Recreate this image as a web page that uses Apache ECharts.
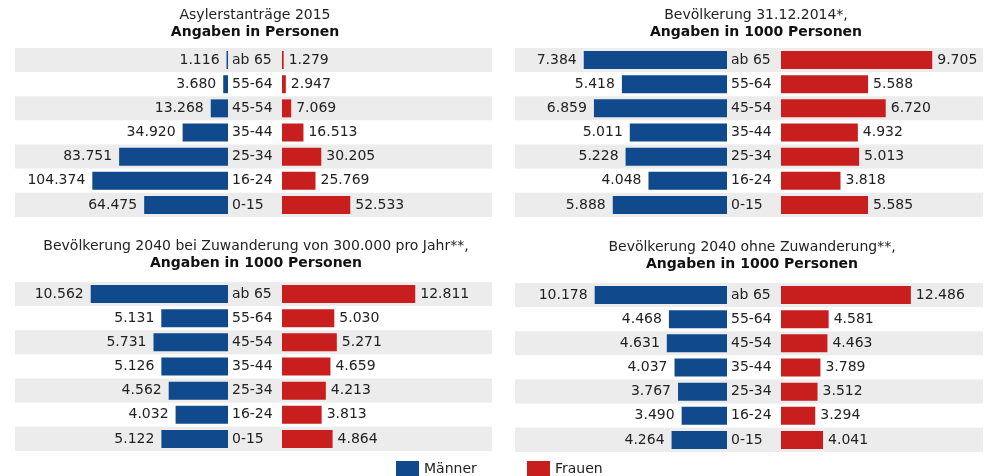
<!DOCTYPE html>
<html>
<head>
<meta charset="utf-8">
<script src="https://cdn.jsdelivr.net/npm/echarts@6/dist/echarts.min.js"></script>
<style>html,body{margin:0;padding:0;background:#fff}#c{width:986px;height:476px}</style>
</head>
<body>
<div id="c"></div>
<script>
// ---- data ----
const categories = ['ab 65', '55-64', '45-54', '35-44', '25-34', '16-24', '0-15'];
const seriesNames = ['Männer', 'Frauen'];
const titles1 = ['Asylerstanträge 2015', 'Bevölkerung 31.12.2014*,', 'Bevölkerung 2040 bei Zuwanderung von 300.000 pro Jahr**,', 'Bevölkerung 2040 ohne Zuwanderung**,'];
const titles2 = ['Angaben in Personen', 'Angaben in 1000 Personen', 'Angaben in 1000 Personen', 'Angaben in 1000 Personen'];
// values (Asyl: persons; others: thousands of persons)
const asylMaenner = [1116, 3680, 13268, 34920, 83751, 104374, 64475];
const asylFrauen = [1279, 2947, 7069, 16513, 30205, 25769, 52533];
const bev2014Maenner = [7384, 5418, 6859, 5011, 5228, 4048, 5888];
const bev2014Frauen = [9705, 5588, 6720, 4932, 5013, 3818, 5585];
const bev2040mitMaenner = [10562, 5131, 5731, 5126, 4562, 4032, 5122];
const bev2040mitFrauen = [12811, 5030, 5271, 4659, 4213, 3813, 4864];
const bev2040ohneMaenner = [10178, 4468, 4631, 4037, 3767, 3490, 4264];
const bev2040ohneFrauen = [12486, 4581, 4463, 3789, 3512, 3294, 4041];

// ---- layout ----
const BLUE = '#104a8c', RED = '#c81e1e', STRIPE = '#ececec', TXT = '#222';
const FONT = 'DejaVu Sans';
const FS = 14;
const panels = [
  {m: asylMaenner, f: asylFrauen, x0: 15, x1: 492, top: 48, zeroL: 228, zeroR: 282, maxL: 120000, wL: 156, maxR: 120000, wR: 156, cx: 255, ty: 15},
  {m: bev2014Maenner, f: bev2014Frauen, x0: 515, x1: 983, top: 48, zeroL: 727, zeroR: 781, maxL: 10000, wL: 194, maxR: 12000, wR: 187, cx: 756, ty: 15},
  {m: bev2040mitMaenner, f: bev2040mitFrauen, x0: 15, x1: 492, top: 282, zeroL: 228, zeroR: 282, maxL: 12000, wL: 156, maxR: 15000, wR: 156, cx: 256, ty: 246},
  {m: bev2040ohneMaenner, f: bev2040ohneFrauen, x0: 515, x1: 983, top: 283, zeroL: 727, zeroR: 781, maxL: 12000, wL: 156, maxR: 15000, wR: 156, cx: 752, ty: 247}
];
const H = 169;
const fmt = v => String(v).replace(/\B(?=(\d{3})+(?!\d))/g, '.');

const grid = [], xAxis = [], yAxis = [], series = [], graphic = [];
panels.forEach((p, i) => {
  const gi = grid.length;
  // background stripes
  grid.push({left: p.x0, top: p.top, width: p.x1 - p.x0, height: H});
  xAxis.push({gridIndex: gi, type: 'value', show: false, min: 0, max: 1});
  yAxis.push({gridIndex: gi, type: 'category', data: categories, inverse: true,
    axisLine: {show: false}, axisTick: {show: false}, axisLabel: {show: false}, splitLine: {show: false},
    splitArea: {show: true, areaStyle: {color: [STRIPE, '#ffffff']}}});
  // left (male)
  grid.push({left: p.zeroL - p.wL, top: p.top, width: p.wL, height: H});
  xAxis.push({gridIndex: gi + 1, type: 'value', show: false, min: 0, max: p.maxL, inverse: true});
  yAxis.push({gridIndex: gi + 1, type: 'category', data: categories, inverse: true, position: 'right',
    axisLine: {show: false}, axisTick: {show: false}, splitLine: {show: false},
    axisLabel: {show: true, align: 'left', margin: 4, color: TXT, fontFamily: FONT, fontSize: FS}});
  // right (female)
  grid.push({left: p.zeroR, top: p.top, width: p.wR, height: H});
  xAxis.push({gridIndex: gi + 2, type: 'value', show: false, min: 0, max: p.maxR});
  yAxis.push({gridIndex: gi + 2, type: 'category', data: categories, inverse: true, show: false});

  series.push({name: seriesNames[0], type: 'bar', xAxisIndex: gi + 1, yAxisIndex: gi + 1, data: p.m, barWidth: 18,
    itemStyle: {color: BLUE}, silent: true,
    label: {show: true, position: 'left', distance: 7, color: TXT, fontFamily: FONT, fontSize: FS, formatter: d => fmt(d.value)}});
  series.push({name: seriesNames[1], type: 'bar', xAxisIndex: gi + 2, yAxisIndex: gi + 2, data: p.f, barWidth: 18,
    itemStyle: {color: RED}, silent: true,
    label: {show: true, position: 'right', distance: 5, color: TXT, fontFamily: FONT, fontSize: FS, formatter: d => fmt(d.value)}});

  graphic.push({type: 'text', x: p.cx, y: p.ty, style: {text: titles1[i], fill: TXT, font: FS + 'px "DejaVu Sans"', align: 'center', verticalAlign: 'middle'}});
  graphic.push({type: 'text', x: p.cx, y: p.ty + 17, style: {text: titles2[i], fill: '#111', font: 'bold ' + FS + 'px "DejaVu Sans"', align: 'center', verticalAlign: 'middle'}});
});

const chart = echarts.init(document.getElementById('c'), null, {renderer: 'canvas'});
chart.setOption({
  animation: false,
  backgroundColor: '#ffffff',
  grid, xAxis, yAxis, series, graphic,
  legend: [
    {data: [seriesNames[0]], left: 396, top: 461, padding: 0, itemWidth: 23, itemHeight: 17, itemGap: 8,
      icon: 'rect', textStyle: {color: TXT, fontFamily: FONT, fontSize: FS}, selectedMode: false},
    {data: [seriesNames[1]], left: 527, top: 461, padding: 0, itemWidth: 23, itemHeight: 17, itemGap: 8,
      icon: 'rect', textStyle: {color: TXT, fontFamily: FONT, fontSize: FS}, selectedMode: false}
  ]
});
</script>
</body>
</html>
